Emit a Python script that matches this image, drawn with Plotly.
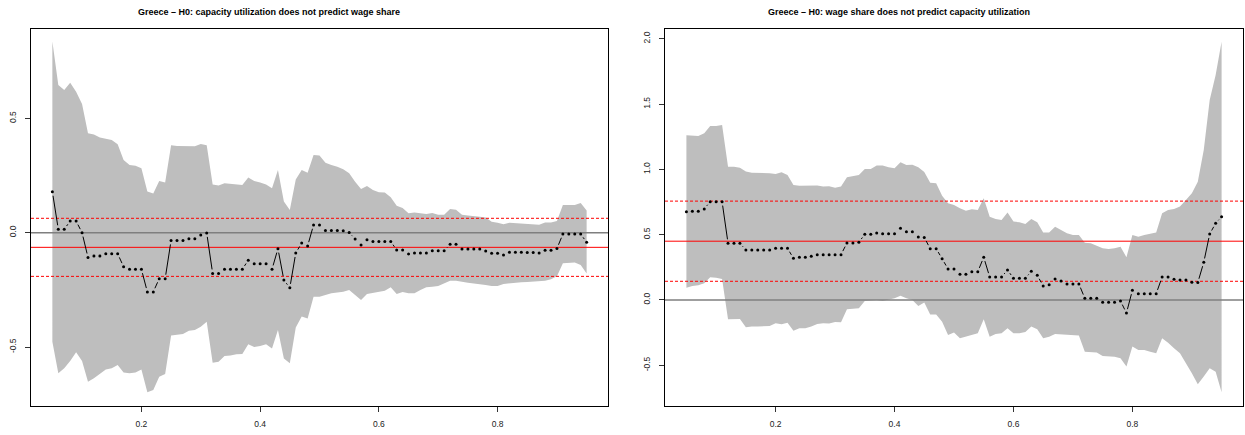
import math
import plotly.graph_objects as go

# ---------------- data ----------------
x_grid = [round(0.05 + 0.01 * i, 2) for i in range(91)]

left_point = [
    0.179, 0.015, 0.015, 0.051, 0.051, 0.000, -0.108, -0.102, -0.102, -0.092,
    -0.092, -0.092, -0.149, -0.160, -0.160, -0.160, -0.259, -0.259, -0.201, -0.201,
    -0.034, -0.034, -0.034, -0.026, -0.026, -0.010, -0.001, -0.178, -0.178, -0.160,
    -0.160, -0.160, -0.160, -0.120, -0.136, -0.136, -0.136, -0.160, -0.070, -0.207,
    -0.241, -0.089, -0.045, -0.058, 0.034, 0.034, 0.010, 0.010, 0.010, 0.009,
    0.001, -0.028, -0.054, -0.031, -0.038, -0.038, -0.038, -0.038, -0.076, -0.076,
    -0.093, -0.089, -0.089, -0.089, -0.079, -0.079, -0.079, -0.051, -0.051, -0.071,
    -0.071, -0.071, -0.071, -0.080, -0.090, -0.090, -0.098, -0.086, -0.086, -0.086,
    -0.087, -0.087, -0.089, -0.077, -0.077, -0.069, -0.006, -0.006, -0.006, -0.006,
    -0.042,
]
left_upper = [
    0.836, 0.646, 0.624, 0.656, 0.617, 0.563, 0.435, 0.430, 0.416, 0.410,
    0.405, 0.387, 0.318, 0.296, 0.293, 0.282, 0.180, 0.172, 0.226, 0.220,
    0.382, 0.379, 0.378, 0.376, 0.378, 0.388, 0.383, 0.211, 0.206, 0.216,
    0.214, 0.211, 0.209, 0.242, 0.226, 0.220, 0.211, 0.194, 0.274, 0.136,
    0.099, 0.233, 0.274, 0.262, 0.340, 0.338, 0.306, 0.296, 0.289, 0.277,
    0.260, 0.223, 0.191, 0.204, 0.187, 0.177, 0.176, 0.155, 0.118, 0.108,
    0.085, 0.088, 0.085, 0.082, 0.086, 0.078, 0.078, 0.104, 0.100, 0.078,
    0.075, 0.074, 0.070, 0.066, 0.048, 0.044, 0.037, 0.043, 0.042, 0.038,
    0.037, 0.037, 0.035, 0.045, 0.045, 0.051, 0.121, 0.121, 0.121, 0.130,
    0.097,
]
left_lower = [
    -0.477, -0.615, -0.593, -0.561, -0.523, -0.561, -0.652, -0.637, -0.618, -0.598,
    -0.593, -0.579, -0.612, -0.615, -0.612, -0.598, -0.698, -0.688, -0.630, -0.618,
    -0.450, -0.448, -0.443, -0.429, -0.426, -0.411, -0.389, -0.569, -0.564, -0.539,
    -0.537, -0.532, -0.531, -0.488, -0.500, -0.496, -0.488, -0.506, -0.426, -0.550,
    -0.571, -0.415, -0.367, -0.375, -0.280, -0.280, -0.273, -0.265, -0.262, -0.258,
    -0.251, -0.273, -0.294, -0.268, -0.262, -0.258, -0.254, -0.239, -0.268, -0.259,
    -0.265, -0.265, -0.251, -0.239, -0.236, -0.233, -0.222, -0.210, -0.210, -0.214,
    -0.219, -0.222, -0.224, -0.229, -0.233, -0.233, -0.224, -0.219, -0.219, -0.217,
    -0.216, -0.214, -0.213, -0.210, -0.204, -0.190, -0.134, -0.131, -0.130, -0.141,
    -0.178,
]

right_point = [
    0.676, 0.679, 0.679, 0.697, 0.753, 0.753, 0.753, 0.434, 0.434, 0.434,
    0.383, 0.383, 0.383, 0.383, 0.383, 0.396, 0.396, 0.396, 0.319, 0.327,
    0.327, 0.334, 0.347, 0.347, 0.347, 0.347, 0.347, 0.436, 0.436, 0.442,
    0.503, 0.503, 0.513, 0.508, 0.508, 0.508, 0.549, 0.523, 0.523, 0.482,
    0.479, 0.393, 0.393, 0.316, 0.237, 0.237, 0.197, 0.197, 0.217, 0.217,
    0.327, 0.176, 0.176, 0.176, 0.230, 0.166, 0.166, 0.166, 0.219, 0.189,
    0.107, 0.117, 0.161, 0.145, 0.123, 0.123, 0.123, 0.013, 0.013, 0.013,
    -0.018, -0.018, -0.018, -0.008, -0.100, 0.074, 0.048, 0.048, 0.048, 0.048,
    0.176, 0.176, 0.158, 0.153, 0.153, 0.135, 0.133, 0.288, 0.505, 0.587,
    0.638,
]
right_upper = [
    1.261, 1.261, 1.256, 1.276, 1.332, 1.332, 1.340, 1.021, 1.021, 1.013,
    0.983, 0.975, 0.975, 0.975, 0.970, 0.965, 0.978, 0.957, 0.881, 0.875,
    0.875, 0.877, 0.877, 0.868, 0.870, 0.860, 0.868, 0.939, 0.949, 0.957,
    1.003, 1.003, 1.029, 1.029, 1.016, 1.008, 1.054, 1.034, 1.036, 1.016,
    0.979, 0.898, 0.893, 0.799, 0.740, 0.727, 0.702, 0.684, 0.694, 0.689,
    0.778, 0.638, 0.620, 0.613, 0.669, 0.600, 0.595, 0.582, 0.620, 0.595,
    0.516, 0.516, 0.561, 0.536, 0.510, 0.498, 0.498, 0.439, 0.434, 0.416,
    0.396, 0.391, 0.396, 0.408, 0.327, 0.498, 0.485, 0.498, 0.510, 0.516,
    0.664, 0.689, 0.697, 0.715, 0.766, 0.817, 0.906, 1.149, 1.531, 1.723,
    1.978,
]
right_lower = [
    0.094, 0.107, 0.112, 0.128, 0.174, 0.171, 0.161, -0.148, -0.148, -0.145,
    -0.209, -0.204, -0.204, -0.204, -0.199, -0.179, -0.186, -0.174, -0.235, -0.217,
    -0.217, -0.204, -0.184, -0.179, -0.181, -0.168, -0.171, -0.071, -0.069, -0.064,
    -0.008, -0.005, 0.000, -0.008, 0.000, 0.013, 0.033, 0.013, 0.000, -0.046,
    -0.020, -0.112, -0.112, -0.166, -0.268, -0.250, -0.294, -0.281, -0.268, -0.255,
    -0.148, -0.281, -0.260, -0.255, -0.217, -0.255, -0.255, -0.245, -0.204, -0.225,
    -0.294, -0.281, -0.260, -0.268, -0.268, -0.270, -0.273, -0.396, -0.401, -0.403,
    -0.429, -0.434, -0.434, -0.447, -0.510, -0.357, -0.383, -0.383, -0.396, -0.408,
    -0.294, -0.327, -0.370, -0.408, -0.485, -0.561, -0.646, -0.587, -0.523, -0.549,
    -0.707,
]

left_mean, left_halfwidth = -0.064, 0.127
right_mean, right_halfwidth = 0.450, 0.307

left_title = "Greece \u2013 H0: capacity utilization does not predict wage share"
right_title = "Greece \u2013 H0: wage share does not predict capacity utilization"

x_ticks = [0.2, 0.4, 0.6, 0.8]
x_ticktext = ["0.2", "0.4", "0.6", "0.8"]
left_yticks = [-0.5, 0.0, 0.5]
left_yticktext = ["-0.5", "0.0", "0.5"]
right_yticks = [-0.5, 0.0, 0.5, 1.0, 1.5, 2.0]
right_yticktext = ["-0.5", "0.0", "0.5", "1.0", "1.5", "2.0"]

# ---------------- layout geometry ----------------
W, H = 1245, 435
xrange_all = [0.014, 0.986]
left_yrange = [-0.758, 0.891]
right_yrange = [-0.812, 2.075]
left_dom = [31 / W, 608 / W]
right_dom = [665 / W, 1243 / W]
y_dom = [(H - 406) / H, (H - 29) / H]

FONT = "Liberation Sans, Arial, Helvetica, sans-serif"
BAND = "#BEBEBE"
GAP = 4.0  # px gap around points (type = "b")


def gapped_segments(xs, ys, dom, xr, yr):
    sx = (dom[1] - dom[0]) * W / (xr[1] - xr[0])
    sy = (y_dom[1] - y_dom[0]) * H / (yr[1] - yr[0])
    sx_out, sy_out = [], []
    for i in range(len(xs) - 1):
        dx = (xs[i + 1] - xs[i]) * sx
        dy = (ys[i + 1] - ys[i]) * sy
        L = math.hypot(dx, dy)
        if L <= 2 * GAP + 0.5:
            continue
        f = GAP / L
        x0 = xs[i] + (xs[i + 1] - xs[i]) * f
        y0 = ys[i] + (ys[i + 1] - ys[i]) * f
        x1 = xs[i + 1] - (xs[i + 1] - xs[i]) * f
        y1 = ys[i + 1] - (ys[i + 1] - ys[i]) * f
        sx_out += [x0, x1, None]
        sy_out += [y0, y1, None]
    return sx_out, sy_out


fig = go.Figure()


def add_panel(xa, ya, pts, up, lo, mean, hw, dom, yr):
    # confidence band
    fig.add_trace(go.Scatter(
        x=x_grid + x_grid[::-1], y=up + lo[::-1], fill="toself",
        fillcolor=BAND, line=dict(width=0), mode="lines",
        hoverinfo="skip", showlegend=False, xaxis=xa, yaxis=ya))
    # zero line
    fig.add_trace(go.Scatter(
        x=xrange_all, y=[0, 0], mode="lines",
        line=dict(color="#7F7F7F", width=1.6), showlegend=False,
        hoverinfo="skip", xaxis=xa, yaxis=ya))
    # mean and bounds
    fig.add_trace(go.Scatter(
        x=xrange_all, y=[mean, mean], mode="lines",
        line=dict(color="#FF0000", width=1.0), showlegend=False,
        hoverinfo="skip", xaxis=xa, yaxis=ya))
    for v in (mean + hw, mean - hw):
        fig.add_trace(go.Scatter(
            x=xrange_all, y=[v, v], mode="lines",
            line=dict(color="#FF0000", width=1.0, dash="3px,2px"),
            showlegend=False, hoverinfo="skip", xaxis=xa, yaxis=ya))
    # connecting segments
    sx, sy = gapped_segments(x_grid, pts, dom, xrange_all, yr)
    fig.add_trace(go.Scatter(
        x=sx, y=sy, mode="lines", line=dict(color="black", width=1),
        showlegend=False, hoverinfo="skip", xaxis=xa, yaxis=ya))
    # points
    fig.add_trace(go.Scatter(
        x=x_grid, y=pts, mode="markers",
        marker=dict(color="black", size=3.0, line=dict(width=0)),
        showlegend=False, xaxis=xa, yaxis=ya))


add_panel("x", "y", left_point, left_upper, left_lower,
          left_mean, left_halfwidth, left_dom, left_yrange)
add_panel("x2", "y2", right_point, right_upper, right_lower,
          right_mean, right_halfwidth, right_dom, right_yrange)

axis_common = dict(
    showgrid=False, zeroline=False, showline=True, linecolor="black",
    linewidth=1, mirror=True, ticks="outside", ticklen=5, tickwidth=1,
    tickcolor="#333333", tickfont=dict(family=FONT, size=8.5, color="#222222"),
)

fig.update_layout(
    width=W, height=H, margin=dict(l=0, r=0, t=0, b=0),
    paper_bgcolor="white", plot_bgcolor="white", showlegend=False,
    xaxis=dict(domain=left_dom, range=xrange_all, anchor="y",
               tickvals=x_ticks, ticktext=x_ticktext, ticklabelstandoff=5,
               **axis_common),
    yaxis=dict(domain=y_dom, range=left_yrange, anchor="x",
               tickvals=left_yticks, ticktext=left_yticktext, tickangle=-90,
               ticklabelstandoff=6, **axis_common),
    xaxis2=dict(domain=right_dom, range=xrange_all, anchor="y2",
                tickvals=x_ticks, ticktext=x_ticktext, ticklabelstandoff=5,
                **axis_common),
    yaxis2=dict(domain=y_dom, range=right_yrange, anchor="x2",
                tickvals=right_yticks, ticktext=right_yticktext, tickangle=-90,
                ticklabelstandoff=6, **axis_common),
    annotations=[
        dict(text="<b>" + left_title + "</b>", x=269 / W, y=(H - 12) / H,
             xref="paper", yref="paper", xanchor="center", yanchor="middle",
             showarrow=False, font=dict(family=FONT, size=9, color="black")),
        dict(text="<b>" + right_title + "</b>", x=899 / W, y=(H - 12) / H,
             xref="paper", yref="paper", xanchor="center", yanchor="middle",
             showarrow=False, font=dict(family=FONT, size=9, color="black")),
    ],
)

fig.write_html(
    "out.html",
    config={"displayModeBar": False},
    post_script="document.body.style.margin='0';document.body.style.overflow='hidden';",
)
